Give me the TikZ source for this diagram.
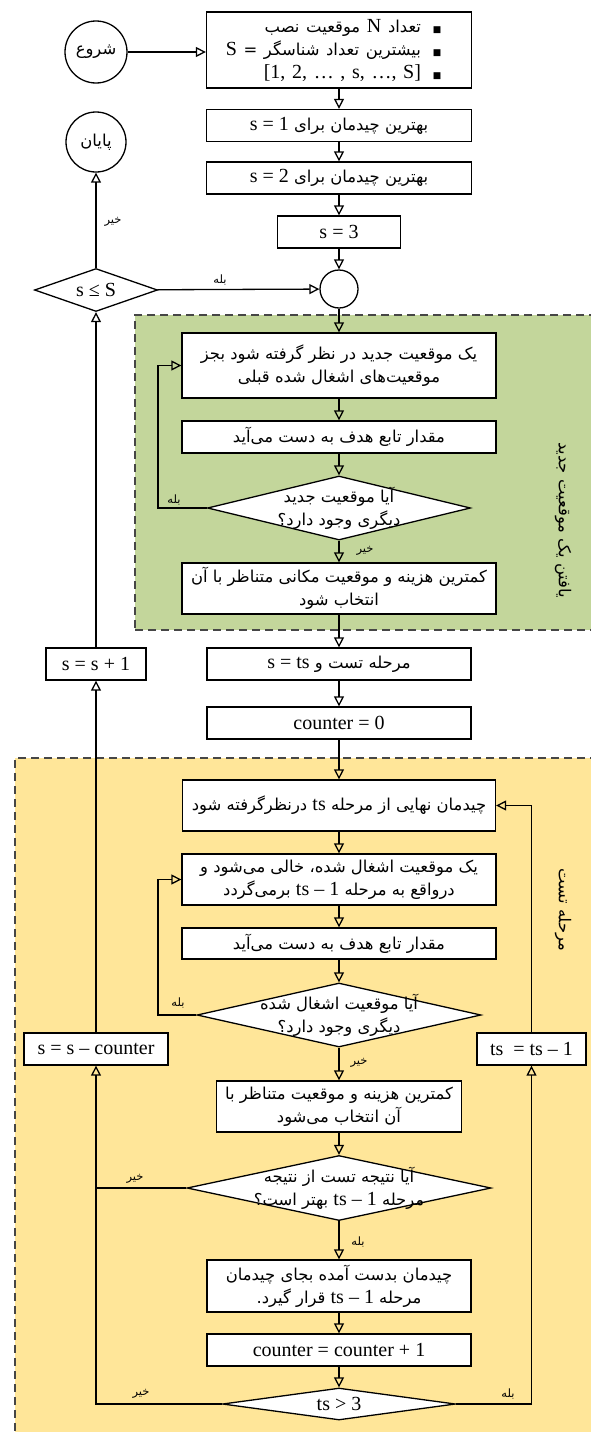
\documentclass[tikz,border=0pt]{standalone}
\usepackage{fontspec}
\setmainfont{Liberation Serif}
\newfontfamily\fa[Script=Arabic,Scale=0.82]{DejaVu Sans}
\newfontfamily\symb{DejaVu Sans}
\TeXXeTstate=1
\usepackage{xcolor}
\usepackage{tikz}
\usetikzlibrary{arrows.meta,positioning,shapes.geometric}
\definecolor{stageGreen}{HTML}{C3D69B}
\definecolor{stageYellow}{HTML}{FFE699}
\newcommand{\fatxt}[1]{{\fa\beginR #1\endR}}
\newcommand{\lat}[1]{\beginL{\rmfamily #1}\endL}
\newcommand{\bul}[1]{\mbox{#1\hspace{12pt}{\symb\fontsize{9}{9}\selectfont ■}\kern20pt}}

\begin{document}
\begin{tikzpicture}[x=1pt,y=-1pt, >={Triangle[open,length=10pt,width=10pt]},
  font=\fontsize{20}{23}\selectfont, line width=1.3pt,
  blk/.style={draw,fill=white,inner sep=2pt,minimum height=32pt,align=center},
  term/.style={circle,draw,fill=white,inner sep=0pt},
  ask/.style={diamond,draw,fill=white,inner sep=-20pt,align=center},
  zone/.style={draw=gray!55!black,dash pattern=on 8pt off 5pt,line width=1.3pt,inner sep=0pt},
  tag/.style={font=\fontsize{14}{16}\selectfont,inner sep=1pt}]
\useasboundingbox (0,0) rectangle (590,1432);
% --- stages ---
\node[zone,fill=stageGreen,minimum width=470pt,minimum height=315pt] (findzone) at (370,472.5) {};
\node[zone,fill=stageYellow,minimum width=590pt,minimum height=690pt] (testzone) at (310,1103) {};
\node[rotate=-90,font=\fontsize{20}{22}\selectfont] (findlbl) at (563,520) {\fatxt{یافتن یک موقعیت جدید}};
\node[rotate=-90,font=\fontsize{20}{22}\selectfont] (testlbl) at (563,910) {\fatxt{مرحله تست}};
% --- start and first layouts ---
\node[term,minimum size=62pt] (start) at (96,52) {\fatxt{شروع}};
\node[blk,minimum width=265pt,minimum height=76pt,text width=245pt,inner xsep=10pt,align=right,
  font=\fontsize{20}{23}\selectfont] (init) at (339,50)
 {\bul{\fatxt{تعداد \lat{N} موقعیت نصب}}\\
  \bul{\fatxt{بیشترین تعداد شناسگر = \lat{S}}}\\
  \bul{[1, 2, … , s, …, S]}};
\node[blk,minimum width=265pt] (best1) at (339,125.5) {\fatxt{بهترین چیدمان برای \lat{s = 1}}};
\node[blk,minimum width=265pt] (best2) at (339,178) {\fatxt{بهترین چیدمان برای \lat{s = 2}}};
\node[blk,minimum width=123pt] (sthree) at (339,232) {s = 3};
\node[term,minimum size=38pt] (join) at (339,289) {};
\node[term,minimum size=60pt] (stop) at (96,142) {\fatxt{پایان}};
\node[ask,minimum width=123pt,minimum height=43pt,aspect=2.9] (cond) at (96,290) {s ≤ S};
% --- find a new position ---
\node[blk,minimum width=314pt,minimum height=65pt] (newpos) at (339,365.5)
 {\fatxt{یک موقعیت جدید در نظر گرفته شود بجز}\\\fatxt{موقعیت^^^^200cهای اشغال شده قبلی}};
\node[blk,minimum width=314pt] (objA) at (339,437) {\fatxt{مقدار تابع هدف به دست می^^^^200cآید}};
\node[ask,minimum width=263pt,minimum height=64pt,aspect=4.1] (moreA) at (339,508)
 {\fatxt{آیا موقعیت جدید}\\\fatxt{دیگری وجود دارد؟}};
\node[blk,minimum width=314pt,minimum height=51pt] (minA) at (339,588.5)
 {\fatxt{کمترین هزینه و موقعیت مکانی متناظر با آن}\\\fatxt{انتخاب شود}};
\node[blk,minimum width=100pt] (sinc) at (96,664) {s = s + 1};
\node[blk,minimum width=264pt] (tstage) at (339,664) {\fatxt{مرحله تست و \lat{s = ts}}};
\node[blk,minimum width=264pt] (cnt0) at (339,723) {counter = 0};
% --- test stage ---
\node[blk,minimum width=313pt,minimum height=51pt] (final) at (339,805.5)
 {\fatxt{چیدمان نهایی از مرحله \lat{ts} درنظرگرفته شود}};
\node[blk,minimum width=314pt,minimum height=51pt] (vacate) at (339,879.5)
 {\fatxt{یک موقعیت اشغال شده، خالی می^^^^200cشود و}\\\fatxt{درواقع به مرحله \lat{ts – 1} برمی^^^^200cگردد}};
\node[blk,minimum width=314pt,minimum height=31pt] (objB) at (339,943.5) {\fatxt{مقدار تابع هدف به دست می^^^^200cآید}};
\node[ask,minimum width=284pt,minimum height=64pt,aspect=4.4] (moreB) at (339,1015)
 {\fatxt{آیا موقعیت اشغال شده}\\\fatxt{دیگری وجود دارد؟}};
\node[blk,minimum width=144pt] (sdec) at (96,1049) {s = s – counter};
\node[blk,minimum width=109pt] (tsdec) at (531.5,1049) {ts\ \ = ts – 1};
\node[blk,minimum width=245pt,minimum height=51pt] (minB) at (339,1106.5)
 {\fatxt{کمترین هزینه و موقعیت متناظر با}\\\fatxt{آن انتخاب می^^^^200cشود}};
\node[ask,minimum width=304pt,minimum height=65pt,aspect=4.7] (better) at (339,1188)
 {\fatxt{آیا نتیجه تست از نتیجه}\\\fatxt{مرحله \lat{ts – 1} بهتر است؟}};
\node[blk,minimum width=264pt,minimum height=52pt] (replace) at (339,1286)
 {\fatxt{چیدمان بدست آمده بجای چیدمان}\\\fatxt{مرحله \lat{ts – 1} قرار گیرد.}};
\node[blk,minimum width=264pt] (cnt1) at (339,1350) {counter = counter + 1};
\node[ask,minimum width=233pt,minimum height=32pt,aspect=7.3] (last) at (339,1404) {ts > 3};
% --- branch words ---
\node[tag] (yesJoin) at (220,280) {\fatxt{بله}};
\node[tag] (noStop) at (113,222) {\fatxt{خیر}};
\node[tag] (yesA) at (174,500) {\fatxt{بله}};
\node[tag] (noA) at (365,551) {\fatxt{خیر}};
\node[tag] (yesB) at (178,1003) {\fatxt{بله}};
\node[tag] (noB) at (359,1063) {\fatxt{خیر}};
\node[tag] (noBetter) at (135,1179) {\fatxt{خیر}};
\node[tag] (yesBetter) at (358,1242) {\fatxt{بله}};
\node[tag] (noLast) at (141,1394) {\fatxt{خیر}};
\node[tag] (yesLast) at (508,1394) {\fatxt{بله}};
\coordinate (loopx) at (158,0);
% --- connectors ---
\draw[->] (start) -- (start -| init.west);
\draw[->] (init) -- (best1);
\draw[->] (best1) -- (best2);
\draw[->] (best2) -- (sthree);
\draw[->] (sthree) -- (join);
\draw[->] (cond) -- (join);
\draw[->] (cond) -- (stop);
\draw[->] (join) -- (newpos);
\draw[->] (newpos) -- (objA);
\draw[->] (objA) -- (moreA);
\draw[->] (moreA) -- (minA);
\draw[->] (moreA.west) -- (moreA.west -| loopx) |- (newpos.west);
\draw[->] (minA) -- (tstage);
\draw[->] (tstage) -- (cnt0);
\draw[->] (cnt0) -- (final);
\draw[->] (final) -- (vacate);
\draw[->] (vacate) -- (objB);
\draw[->] (objB) -- (moreB);
\draw[->] (moreB.west) -- (moreB.west -| loopx) |- (vacate.west);
\draw[->] (moreB) -- (minB);
\draw[->] (minB) -- (better);
\draw[->] (better) -- (replace);
\draw (better.west) -- (better.west -| sdec.south);
\draw[->] (replace) -- (cnt1);
\draw[->] (cnt1) -- (last);
\draw[->] (last.west) -| (sdec.south);
\draw[->] (last.east) -| (tsdec.south);
\draw[->] (tsdec.north) |- (final.east);
\draw[->] (sdec) -- (sinc);
\draw[->] (sinc) -- (cond);
\end{tikzpicture}
\end{document}
